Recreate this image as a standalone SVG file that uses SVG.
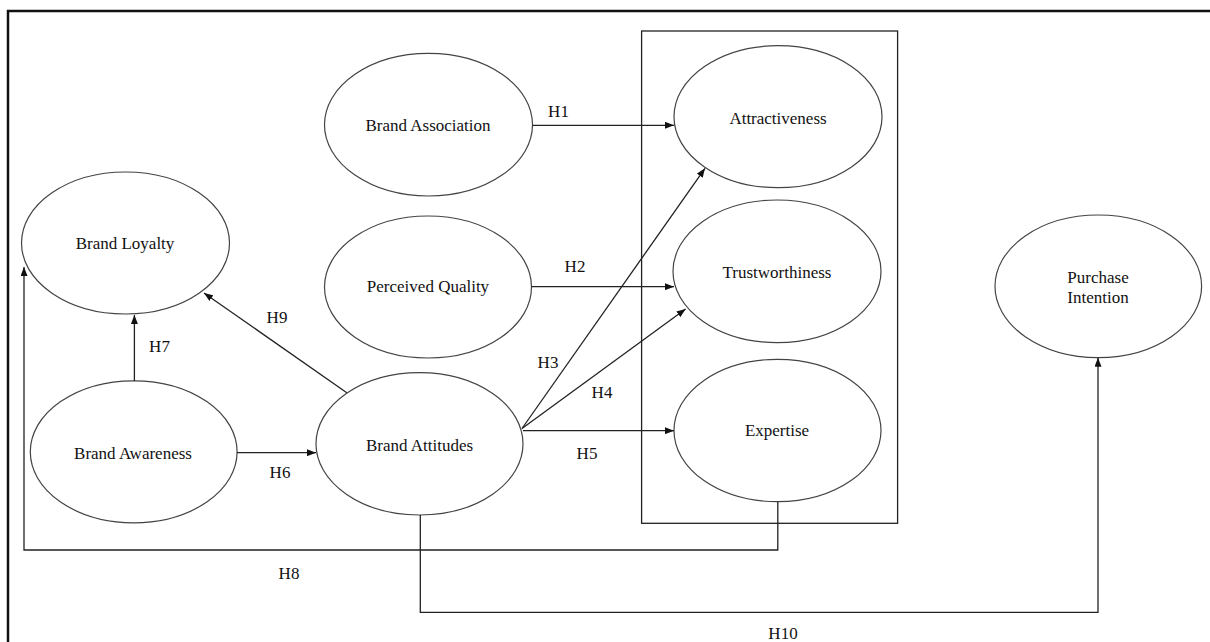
<svg xmlns="http://www.w3.org/2000/svg" width="1210" height="642" viewBox="0 0 1210 642">
<style>
.n ellipse{fill:#fff;stroke:#444;stroke-width:1.2}
text{font-family:"Liberation Serif","Times New Roman",serif;font-size:17px;fill:#111;text-anchor:middle}
.c path{fill:none;stroke:#222;stroke-width:1.3}
</style>
<defs>
<marker id="a" markerUnits="userSpaceOnUse" markerWidth="9" markerHeight="7" viewBox="0 0 9 7" refX="9" refY="3.5" orient="auto">
<path d="M0,0 L9,3.5 L0,7 Z" fill="#111"/>
</marker>
</defs>
<rect width="1210" height="642" fill="#fff"/>
<path d="M8,642 V11 H1210" fill="none" stroke="#111" stroke-width="2.5"/>
<rect id="credibility-box" x="641.6" y="31" width="256" height="492.3" fill="none" stroke="#222" stroke-width="1.3"/>
<g id="brand-association" class="n"><ellipse cx="428.5" cy="124.7" rx="104" ry="71.3"/><text x="428" y="131">Brand Association</text></g>
<g id="perceived-quality" class="n"><ellipse cx="428" cy="287" rx="103.5" ry="71"/><text x="428" y="291.5">Perceived Quality</text></g>
<g id="attractiveness" class="n"><ellipse cx="778" cy="116.7" rx="104" ry="71"/><text x="778" y="124">Attractiveness</text></g>
<g id="trustworthiness" class="n"><ellipse cx="777" cy="271.3" rx="104" ry="71.3"/><text x="777" y="277.5">Trustworthiness</text></g>
<g id="expertise" class="n"><ellipse cx="777.5" cy="430.5" rx="103.5" ry="71.2"/><text x="777" y="436">Expertise</text></g>
<g id="brand-loyalty" class="n"><ellipse cx="125.5" cy="243" rx="104" ry="71"/><text x="125" y="249">Brand Loyalty</text></g>
<g id="brand-awareness" class="n"><ellipse cx="133.7" cy="451.8" rx="103.4" ry="71"/><text x="133" y="458.5">Brand Awareness</text></g>
<g id="brand-attitudes" class="n"><ellipse cx="419.5" cy="443.8" rx="103.5" ry="71.2"/><text x="419.5" y="450.5">Brand Attitudes</text></g>
<g id="purchase-intention" class="n"><ellipse cx="1098.3" cy="286.3" rx="103.3" ry="71.3"/><text x="1098" y="283">Purchase</text><text x="1098" y="303">Intention</text></g>
<g id="connectors" class="c">
<path d="M532.5,125.3 H674" marker-end="url(#a)"/>
<path d="M531.5,286.7 H674" marker-end="url(#a)"/>
<path d="M522,428.5 L705,168.3" marker-end="url(#a)"/>
<path d="M522,428.5 L685.6,309" marker-end="url(#a)"/>
<path d="M523,430.7 H674" marker-end="url(#a)"/>
<path d="M237,452.7 H316" marker-end="url(#a)"/>
<path d="M134.4,381 V315" marker-end="url(#a)"/>
<path d="M346.8,392.7 L204,293" marker-end="url(#a)"/>
<path d="M777.8,501.7 V550 H24 V267" marker-end="url(#a)"/>
<path d="M420.3,515 V612.3 H1098 V357.7" marker-end="url(#a)"/>
</g>
<g id="labels">
<text x="558.5" y="117.3">H1</text>
<text x="575" y="272">H2</text>
<text x="548" y="368">H3</text>
<text x="602" y="397.5">H4</text>
<text x="587" y="459">H5</text>
<text x="280" y="478">H6</text>
<text x="159.5" y="351.5">H7</text>
<text x="289" y="579">H8</text>
<text x="277" y="323">H9</text>
<text x="783" y="639">H10</text>
</g>
</svg>
